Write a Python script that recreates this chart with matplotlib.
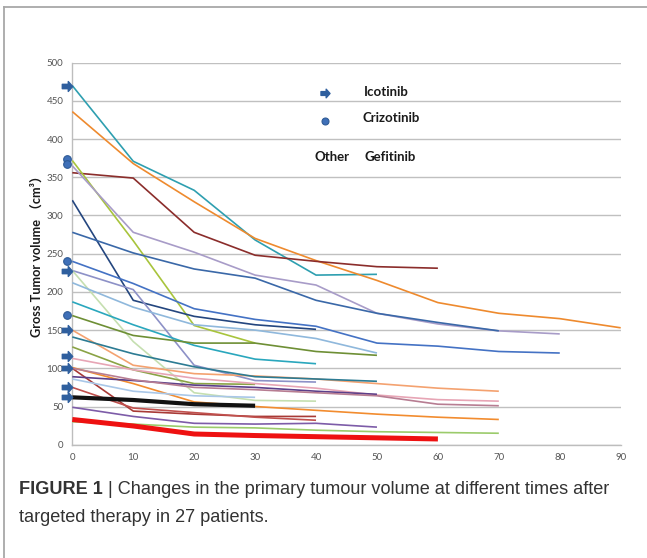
import matplotlib
matplotlib.use("Agg")
import matplotlib.pyplot as plt
from matplotlib.path import Path
from matplotlib.lines import Line2D

# ---------------- data ----------------
times = [0, 10, 20, 30, 40, 50, 60, 70, 80, 90]

p01 = [470, 371, 333, 268, 222, 223]
p02 = [436, 368, 318, 270, 241, 215, 186, 172, 165, 153]
p03 = [356, 349, 278, 248, 240, 233, 231]
p04 = [372, 267, 156, 133]
p05 = [365, 278, 252, 222, 209, 172, 158, 149, 145]
p06 = [320, 189, 168, 157, 151]
p07 = [278, 251, 230, 218, 189, 172, 160, 149]
p08 = [240, 211, 178, 164, 155, 133, 129, 122, 120]
p09 = [228, 203, 104, 84, 82]
p10 = [228, 135, 68, 58, 57]
p11 = [212, 180, 157, 150, 139, 120]
p12 = [187, 157, 130, 112, 106]
p13 = [169, 143, 133, 133, 122, 117]
p14 = [150, 104, 93, 90, 86, 80, 74, 70]
p15 = [141, 119, 102, 89, 86, 83]
p16 = [128, 98, 80, 79]
p17 = [113, 98, 87, 80, 74, 65, 59, 57]
p18 = [101, 80, 56, 50, 45, 40, 36, 33]
p19 = [100, 44, 40, 37, 37]
p20 = [89, 84, 78, 75, 70, 66]
p21 = [100, 85, 75, 72, 68, 64, 53, 51]
p22 = [86, 70, 64, 62]
p23 = [75, 48, 42, 36, 32]
p24 = [62, 58.5, 53, 51]
p25 = [49, 37, 28, 27, 28, 23]
p26 = [30, 27, 23, 22, 19, 17, 16, 15]
p27 = [33, 24.5, 14, 12, 10.5, 9, 7.5]

patients = [p01, p02, p03, p04, p05, p06, p07, p08, p09, p10, p11, p12, p13, p14,
            p15, p16, p17, p18, p19, p20, p21, p22, p23, p24, p25, p26, p27]

colors = ['#2e9fb0', '#ee8a2e', '#8b2d2b', '#a8c43c', '#a89cc8', '#24467f', '#3a68a8',
          '#4472c4', '#8d91c7', '#c5dfb0', '#8fb8dc', '#2aa7bd', '#6e8f35', '#f4a270',
          '#2c7b93', '#8aa345', '#e7a5b5', '#f28c2f', '#a83a36', '#5b3f8a', '#b77d92',
          '#a9c7e8', '#c0504d', '#111111', '#7d5ca8', '#9bcb6b', '#ee1111']
widths = [1.2] * 27
widths[23] = 3.0
widths[26] = 3.6

icotinib_start = [470, 228, 150, 116, 101, 75, 62]
crizotinib_start = [374, 367, 240, 170]

y_ticks = [0, 50, 100, 150, 200, 250, 300, 350, 400, 450, 500]
x_ticks = [0, 10, 20, 30, 40, 50, 60, 70, 80, 90]

legend_labels = ["Icotinib", "Crizotinib", "Gefitinib"]
other_label = "Other"
y_label = "Gross Tumor volume （cm³）"
caption_bold = "FIGURE 1"
caption_rest = " | Changes in the primary tumour volume at different times after"
caption_line2 = "targeted therapy in 27 patients."

# ---------------- figure ----------------
W, H = 647, 558
fig = plt.figure(figsize=(W / 100, H / 100), dpi=100)
ax = fig.add_axes([72.3 / W, 1 - 444.7 / H, 548.4 / W, 382.0 / H])

arrow = Path([(-1, -0.42), (0.15, -0.42), (0.15, -0.95), (1, 0), (0.15, 0.95),
              (0.15, 0.42), (-1, 0.42), (-1, -0.42)],
             [Path.MOVETO] + [Path.LINETO] * 6 + [Path.CLOSEPOLY])

for vals, c, lw in zip(patients, colors, widths):
    ax.plot(times[:len(vals)], vals, color=c, lw=lw, solid_capstyle='butt',
            solid_joinstyle='round', zorder=3)

ax.plot([-0.9] * len(icotinib_start), icotinib_start, linestyle='none', marker=arrow,
        markersize=7.5, color='#2f5f9e', clip_on=False, zorder=5)
ax.plot([-0.9] * len(crizotinib_start), crizotinib_start, linestyle='none', marker='o',
        markersize=5.5, markerfacecolor='#3f70b8', markeredgecolor='#2f5b96',
        markeredgewidth=0.8, clip_on=False, zorder=5)

# legend-like annotations
ax.plot([41.5], [460], marker=arrow, markersize=6.5, color='#2f5f9e', linestyle='none')
ax.plot([41.4], [424], marker='o', markersize=5, markerfacecolor='#3f70b8',
        markeredgecolor='#2f5b96', markeredgewidth=0.8, linestyle='none')
tkw = dict(fontsize=9.5, fontweight='bold', color='#1a1a1a', va='center',
           family=['Lato', 'DejaVu Sans'])
ax.text(47.8, 461, legend_labels[0], ha='left', **tkw)
ax.text(47.6, 427, legend_labels[1], ha='left', **tkw)
ax.text(39.8, 376, other_label, ha='left', **tkw)
ax.text(47.9, 376, legend_labels[2], ha='left', **tkw)

ax.set_xlim(0, 90)
ax.set_ylim(0, 500)
ax.set_xticks(x_ticks)
ax.set_yticks(y_ticks)
ax.tick_params(length=0, labelsize=7, labelcolor='#555555')
ax.tick_params(axis='y', pad=6.5)
ax.tick_params(axis='x', pad=6)
for lab in ax.get_xticklabels() + ax.get_yticklabels():
    lab.set_family(['Lato', 'DejaVu Sans'])
ax.grid(axis='y', color='#c0c0c0', lw=1.0, zorder=0)
ax.set_axisbelow(True)
for s in ['top', 'right']:
    ax.spines[s].set_visible(False)
ax.spines['left'].set_color('#bdbdbd')
ax.spines['bottom'].set_color('#bdbdbd')
ax.spines['left'].set_linewidth(1.0)
ax.spines['bottom'].set_linewidth(1.0)

ax.text(-0.066, 0.502, y_label, transform=ax.transAxes, rotation=90, ha='center',
        va='center', fontsize=9.2, fontweight='bold', color='#1a1a1a',
        family=['Lato', 'Noto Sans CJK SC', 'DejaVu Sans'])

# outer frame (top and left edges)
fig.add_artist(Line2D([3.5 / W, 1.0], [1 - 7 / H, 1 - 7 / H], transform=fig.transFigure,
                      color='#a8a8a8', lw=1.3))
fig.add_artist(Line2D([3.5 / W, 3.5 / W], [0, 1 - 7 / H], transform=fig.transFigure,
                      color='#a8a8a8', lw=1.3))

# caption
cap_kw = dict(fontsize=13.1, color='#333333', family=['Liberation Sans', 'DejaVu Sans'],
              va='center', ha='left')
t1 = fig.text(19 / W, 1 - 489 / H, caption_bold, fontweight='bold', **cap_kw)
fig.canvas.draw()
bb = t1.get_window_extent()
fig.text(bb.x1 / W, 1 - 489 / H, caption_rest, **cap_kw)
fig.text(19 / W, 1 - 518 / H, caption_line2, **cap_kw)

fig.savefig("out.png", dpi=100)
